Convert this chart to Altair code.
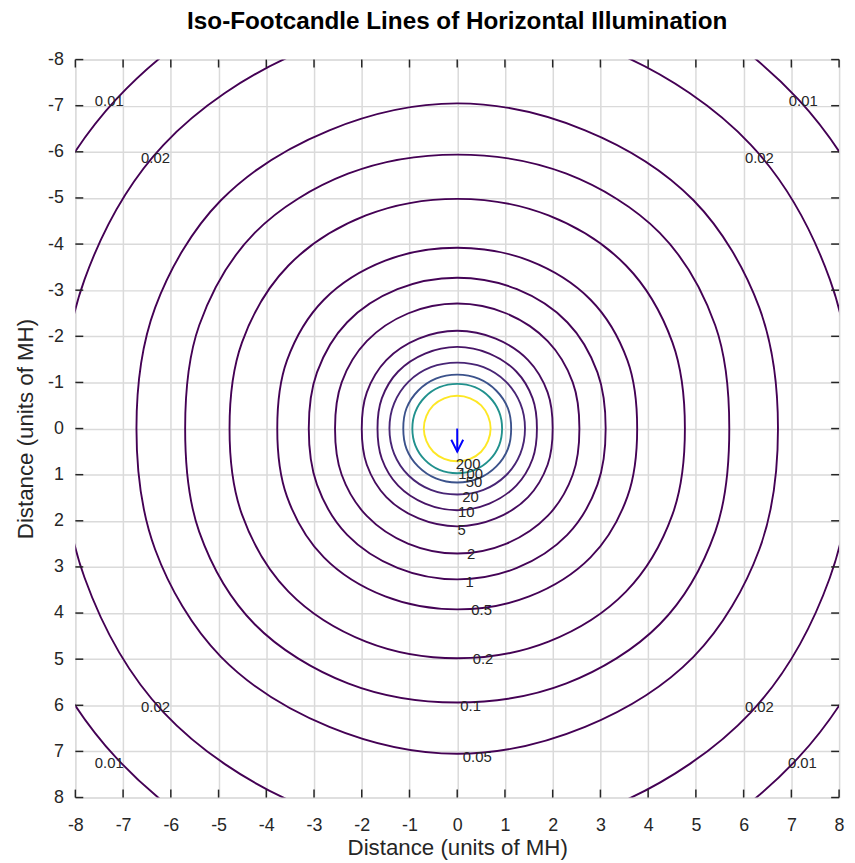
import math
import altair as alt
import pandas as pd

# Contour levels (footcandles)
levels = [0.01, 0.02, 0.05, 0.1, 0.2, 0.5, 1, 2, 5, 10, 20, 50, 100, 200]
# Radius of each iso-line (units of MH) read at angles 0, 22.5, 45, 67.5, 90 deg
# from the horizontal axis (picture is symmetric about both axes)
r_0 = [9.70, 8.30, 6.72, 5.70, 4.77, 3.77, 3.11, 2.56, 2.00, 1.67, 1.42, 1.13, 0.94, 0.70]
r_22 = [9.85, 8.45, 6.85, 5.85, 4.88, 3.86, 3.18, 2.62, 2.05, 1.71, 1.43, 1.15, 0.95, 0.70]
r_45 = [10.10, 8.70, 7.00, 6.00, 5.00, 3.95, 3.26, 2.68, 2.10, 1.75, 1.44, 1.16, 0.96, 0.71]
r_67 = [10.30, 8.80, 7.00, 5.98, 5.00, 3.94, 3.27, 2.70, 2.11, 1.76, 1.44, 1.17, 0.97, 0.71]
r_90 = [10.45, 8.90, 7.05, 5.94, 4.98, 3.92, 3.27, 2.71, 2.12, 1.77, 1.43, 1.17, 0.97, 0.71]
angles = [0, 22.5, 45, 67.5, 90]

# Contour labels
label_text = ["200", "100", "50", "20", "10", "5", "2", "1", "0.5", "0.2", "0.1", "0.05",
              "0.01", "0.02", "0.01", "0.02", "0.02", "0.01", "0.02", "0.01"]
label_x = [0.23, 0.28, 0.35, 0.28, 0.19, 0.09, 0.29, 0.26, 0.51, 0.54, 0.28, 0.42,
           -7.29, -6.32, 7.25, 6.33, -6.32, -7.29, 6.33, 7.23]
label_y = [0.78, 0.98, 1.16, 1.49, 1.81, 2.19, 2.73, 3.33, 3.93, 5.00, 6.01, 7.12,
           -7.10, -5.87, -7.11, -5.87, 6.03, 7.26, 6.03, 7.26]

# Luminaire aiming arrow (quiver)
arrow_x = [0.0]
arrow_y = [0.0]
arrow_v = [0.5]

ticks = list(range(-8, 9))

# ---- build tables ----
rows = []
for i, lev in enumerate(levels):
    q = [r_0[i], r_22[i], r_45[i], r_67[i], r_90[i]]
    for k in range(16):
        a = 22.5 * k
        am = a % 180
        if am > 90:
            am = 180 - am
        r = q[angles.index(am)]
        rows.append({"level": lev, "k": k,
                     "x": r * math.cos(math.radians(a)),
                     "y": r * math.sin(math.radians(a))})
df_c = pd.DataFrame(rows)
df_l = pd.DataFrame({"text": label_text, "x": label_x, "y": label_y})
df_a = pd.DataFrame({"x": arrow_x, "y": arrow_y, "y2": [a + v for a, v in zip(arrow_y, arrow_v)]})
df_t = pd.DataFrame({"t": ticks})

W, H = 771, 745
FONT = "Liberation Sans"
xs = alt.Scale(domain=[-8, 8], nice=False, zero=False)
ys = alt.Scale(domain=[-8, 8], nice=False, zero=False, reverse=True)

common = dict(values=ticks, labelExpr="toString(datum.value)", title="Distance (units of MH)",
              grid=True, ticks=False, tickSize=0, domain=False, labelFlush=False,
              labelFontSize=18, titleFontSize=22.5, labelFont=FONT, titleFont=FONT,
              labelColor="#262626", titleColor="#262626", titleFontWeight="normal",
              gridColor="#dadada", gridWidth=1.5)
xaxis = alt.Axis(labelPadding=19, titlePadding=3, **common)
yaxis = alt.Axis(labelPadding=12, titlePadding=10, **common)

contours = alt.Chart(df_c).mark_line(interpolate="cardinal-closed", clip=True, strokeWidth=1.9).encode(
    x=alt.X("x:Q", scale=xs, axis=xaxis),
    y=alt.Y("y:Q", scale=ys, axis=yaxis),
    color=alt.Color("level:Q", scale=alt.Scale(scheme="viridis", domain=[0.01, 200]), legend=None),
    detail="level:N",
    order="k:Q",
)

labels = alt.Chart(df_l).mark_text(fontSize=15, font=FONT, color="#262626").encode(
    x=alt.X("x:Q", scale=xs), y=alt.Y("y:Q", scale=ys), text="text:N")

shaft = alt.Chart(df_a).mark_rule(color="#0000ff", strokeWidth=2).encode(
    x=alt.X("x:Q", scale=xs), y=alt.Y("y:Q", scale=ys), y2="y2:Q")
head = alt.Chart(df_a).mark_point(shape="M-1,-2L0,0L1,-2", filled=False, color="#0000ff",
                                  strokeWidth=2, size=144, opacity=1).encode(
    x=alt.X("x:Q", scale=xs), y=alt.Y("y2:Q", scale=ys))

tick_col = "#262626"
t_bottom = alt.Chart(df_t).mark_rule(color=tick_col, strokeWidth=1.5).encode(
    x=alt.X("t:Q", scale=xs), y=alt.value(H), y2=alt.value(H - 8))
t_top = alt.Chart(df_t).mark_rule(color=tick_col, strokeWidth=1.5).encode(
    x=alt.X("t:Q", scale=xs), y=alt.value(0), y2=alt.value(8))
t_left = alt.Chart(df_t).mark_rule(color=tick_col, strokeWidth=1.5).encode(
    y=alt.Y("t:Q", scale=ys), x=alt.value(0), x2=alt.value(8))
t_right = alt.Chart(df_t).mark_rule(color=tick_col, strokeWidth=1.5).encode(
    y=alt.Y("t:Q", scale=ys), x=alt.value(W), x2=alt.value(W - 8))

chart = alt.layer(contours, labels, shaft, head, t_bottom, t_top, t_left, t_right).properties(
    width=W, height=H,
    title=alt.TitleParams("Iso-Footcandle Lines of Horizontal Illumination", fontSize=24.5,
                          fontWeight="bold", font=FONT, anchor="middle", offset=16, color="#000000"),
    autosize=alt.AutoSizeParams(type="none"),
    padding={"left": 68, "top": 48, "right": 8, "bottom": 60},
).configure_view(stroke="#262626", strokeWidth=1.5).configure(background="white")

chart.save("out.html", embed_options={"renderer": "svg", "actions": False})
